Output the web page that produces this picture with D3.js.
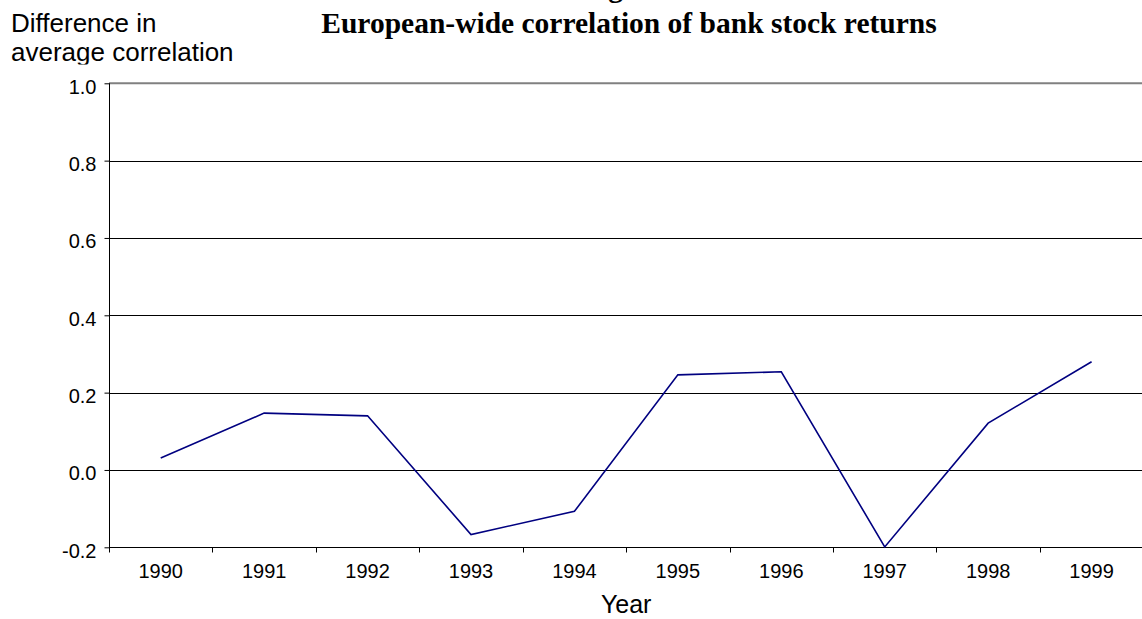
<!DOCTYPE html>
<html>
<head>
<meta charset="utf-8">
<script src="https://cdn.jsdelivr.net/npm/d3@7"></script>
<style>
  html, body { margin: 0; padding: 0; background: #fff; }
  svg { display: block; }
</style>
</head>
<body>
<svg id="chart" width="1142" height="619"></svg>
<script>
// Year-on-year difference in average correlation of bank stock returns
const years = ["1990", "1991", "1992", "1993", "1994", "1995", "1996", "1997", "1998", "1999"];
const diffCorrelation = [0.031, 0.147, 0.140, -0.167, -0.107, 0.246, 0.254, -0.199, 0.121, 0.280];
const yTicks = [-0.2, 0.0, 0.2, 0.4, 0.6, 0.8, 1.0];
const yDomain = [-0.2, 1.0];

const titleText = "European-wide correlation of bank stock returns";
const yLabelLines = ["Difference in", "average correlation"];
const xLabelText = "Year";

const svg = d3.select("#chart");
const W = 1142, H = 619;
const plot = { left: 109, right: 1143.3, top: 83.3, bottom: 547.3 };

const x = d3.scaleBand().domain(years).range([plot.left, plot.right]).padding(0);
const y = d3.scaleLinear().domain(yDomain).range([plot.bottom, plot.top]);

const sans = "Arial, 'Liberation Sans', Helvetica, sans-serif";
const serif = "'Times New Roman', 'Liberation Serif', Times, serif";

// horizontal gridlines (inner ticks only)
svg.append("g")
  .selectAll("line")
  .data(yTicks.filter(v => v > yDomain[0] && v < yDomain[1]))
  .join("line")
  .attr("x1", plot.left).attr("x2", plot.right)
  .attr("y1", d => Math.round(y(d)) + 0.5).attr("y2", d => Math.round(y(d)) + 0.5)
  .attr("stroke", "#000").attr("stroke-width", 1);

// plot-area top border
svg.append("line")
  .attr("x1", plot.left).attr("x2", plot.right)
  .attr("y1", y(yDomain[1])).attr("y2", y(yDomain[1]))
  .attr("stroke", "#808080").attr("stroke-width", 2);

// y axis
const yAxis = d3.axisLeft(y)
  .tickValues(yTicks)
  .tickSize(5)
  .tickPadding(8)
  .tickFormat(d => d.toFixed(1));
const gy = svg.append("g")
  .attr("transform", `translate(${plot.left + 0.5},0)`)
  .call(yAxis);
gy.select(".domain").remove();
gy.selectAll(".tick line").attr("stroke", "#000");
gy.selectAll(".tick text")
  .attr("font-family", sans).attr("font-size", 20)
  .attr("fill", "#000").attr("y", 3.5);
gy.append("line")
  .attr("x1", 0).attr("x2", 0)
  .attr("y1", plot.top).attr("y2", plot.bottom)
  .attr("stroke", "#000");

// x axis: labels centred in each band, tick marks on band edges
const xAxis = d3.axisBottom(x).tickSize(0).tickPadding(0);
const gx = svg.append("g")
  .attr("transform", `translate(0,${Math.round(plot.bottom) + 0.5})`)
  .call(xAxis);
gx.select(".domain").remove();
gx.selectAll(".tick text")
  .attr("font-family", sans).attr("font-size", 20)
  .attr("fill", "#000")
  .attr("y", 578 - Math.round(plot.bottom) - 0.5)
  .attr("dy", 0);
gx.append("line")
  .attr("x1", plot.left).attr("x2", plot.right)
  .attr("y1", 0).attr("y2", 0)
  .attr("stroke", "#000");
gx.append("g")
  .selectAll("line")
  .data(years)
  .join("line")
  .attr("x1", d => Math.round(x(d)) + 0.5).attr("x2", d => Math.round(x(d)) + 0.5)
  .attr("y1", 0).attr("y2", 5)
  .attr("stroke", "#000");

// series line
const line = d3.line()
  .x((d, i) => x(years[i]) + x.bandwidth() / 2)
  .y(d => y(d));
svg.append("path")
  .datum(diffCorrelation)
  .attr("d", line)
  .attr("fill", "none")
  .attr("stroke", "#000080")
  .attr("stroke-width", 1.6)
  .attr("stroke-linejoin", "miter");

// heading (first line runs off the top edge)
svg.append("text")
  .attr("x", 623).attr("y", -3.4)
  .attr("text-anchor", "end")
  .attr("font-family", serif).attr("font-weight", "bold").attr("font-size", 29.5)
  .attr("fill", "#000")
  .text("Co-movement of banking");
svg.append("text")
  .attr("x", 629).attr("y", 33.3)
  .attr("text-anchor", "middle")
  .attr("font-family", serif).attr("font-weight", "bold").attr("font-size", 29.5)
  .attr("fill", "#000")
  .text(titleText);

// y-axis title, clipped by its frame at the bottom
svg.append("clipPath").attr("id", "ylabel-clip")
  .append("rect").attr("x", 0).attr("y", 0).attr("width", 300).attr("height", 64.5);
svg.append("g").attr("clip-path", "url(#ylabel-clip)")
  .selectAll("text")
  .data(yLabelLines)
  .join("text")
  .attr("x", 11)
  .attr("y", (d, i) => 32 + i * 29.2)
  .attr("font-family", sans).attr("font-size", 26)
  .attr("fill", "#000")
  .text(d => d);

// x-axis title
svg.append("text")
  .attr("x", (plot.left + plot.right) / 2).attr("y", 613)
  .attr("text-anchor", "middle")
  .attr("font-family", sans).attr("font-size", 25)
  .attr("fill", "#000")
  .text(xLabelText);
</script>
</body>
</html>
